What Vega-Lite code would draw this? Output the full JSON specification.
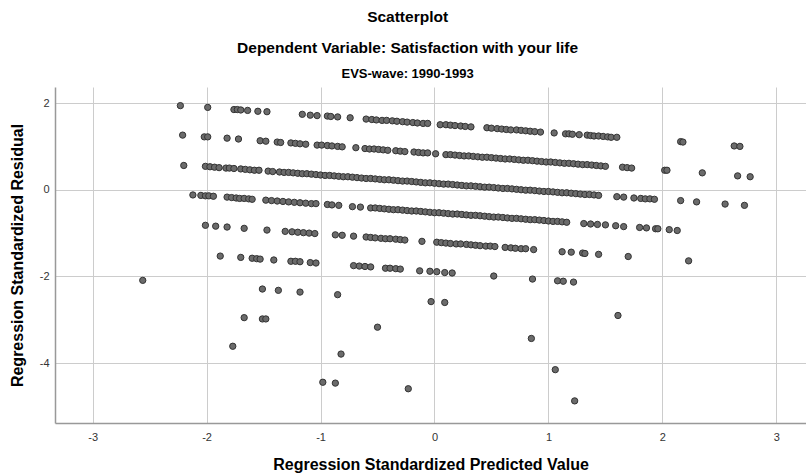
{
"$schema":"https://vega.github.io/schema/vega-lite/v6.json",
"width":751,"height":336,
"autosize":{"type":"none"},
"padding":{"left":55,"top":87,"right":0,"bottom":51},
"background":"white",
"title":{"text":["Scatterplot","Dependent Variable: Satisfaction with your life"],"subtitle":"EVS-wave: 1990-1993","anchor":"middle","frame":"bounds","font":"Liberation Sans","fontSize":15.5,"fontWeight":"bold","lineHeight":31,"color":"#000000","subtitleFont":"Liberation Sans","subtitleFontSize":13,"subtitleFontWeight":"bold","subtitleColor":"#000000","subtitlePadding":12,"offset":6},
"config":{"view":{"stroke":null},"axis":{"labelFont":"Liberation Sans","labelFontSize":11,"labelColor":"#333333","titleFont":"Liberation Sans","titleFontSize":16,"titleFontWeight":"bold","titleColor":"#000000","gridColor":"#cccccc","gridWidth":1,"domainColor":"#999999","domainWidth":1.5,"ticks":false,"labelExpr":"'' + datum.value"}},
"data":{"values":[
{"p":-2.23,"r":1.94},{"p":-1.99,"r":1.9},{"p":-1.76,"r":1.85},{"p":-1.73,"r":1.85},{"p":-1.7,"r":1.84},{"p":-1.64,"r":1.83},{"p":-1.55,"r":1.81},{"p":-1.47,"r":1.8},{"p":-1.16,"r":1.74},{"p":-1.09,"r":1.72},{"p":-1.03,"r":1.71},{"p":-0.94,"r":1.7},{"p":-0.91,"r":1.69},{"p":-0.85,"r":1.68},{"p":-0.74,"r":1.66},{"p":-0.6,"r":1.63},{"p":-0.55,"r":1.62},{"p":-0.51,"r":1.61},{"p":-0.46,"r":1.6},{"p":-0.42,"r":1.6},{"p":-0.37,"r":1.59},{"p":-0.33,"r":1.58},{"p":-0.28,"r":1.57},{"p":-0.24,"r":1.56},{"p":-0.19,"r":1.55},{"p":-0.15,"r":1.54},{"p":-0.1,"r":1.53},{"p":-0.06,"r":1.53},{"p":0.05,"r":1.5},{"p":0.1,"r":1.5},{"p":0.14,"r":1.49},{"p":0.18,"r":1.48},{"p":0.23,"r":1.47},{"p":0.27,"r":1.46},{"p":0.32,"r":1.45},{"p":0.46,"r":1.43},{"p":0.5,"r":1.42},{"p":0.55,"r":1.41},{"p":0.59,"r":1.4},{"p":0.63,"r":1.39},{"p":0.67,"r":1.38},{"p":0.72,"r":1.38},{"p":0.76,"r":1.37},{"p":0.8,"r":1.36},{"p":0.84,"r":1.35},{"p":0.88,"r":1.34},{"p":0.93,"r":1.33},{"p":1.05,"r":1.31},{"p":1.15,"r":1.29},{"p":1.18,"r":1.29},{"p":1.21,"r":1.28},{"p":1.27,"r":1.27},{"p":1.34,"r":1.26},{"p":1.37,"r":1.25},{"p":1.4,"r":1.24},{"p":1.44,"r":1.24},{"p":1.48,"r":1.23},{"p":1.52,"r":1.22},{"p":1.55,"r":1.21},{"p":1.6,"r":1.21},{"p":2.16,"r":1.11},{"p":2.18,"r":1.1},{"p":2.63,"r":1.01},{"p":2.68,"r":1.0},
{"p":-2.21,"r":1.26},{"p":-2.02,"r":1.22},{"p":-1.99,"r":1.22},{"p":-1.82,"r":1.19},{"p":-1.72,"r":1.17},{"p":-1.53,"r":1.13},{"p":-1.48,"r":1.12},{"p":-1.38,"r":1.1},{"p":-1.35,"r":1.09},{"p":-1.26,"r":1.08},{"p":-1.22,"r":1.07},{"p":-1.18,"r":1.06},{"p":-1.13,"r":1.05},{"p":-1.03,"r":1.03},{"p":-0.99,"r":1.03},{"p":-0.94,"r":1.02},{"p":-0.9,"r":1.01},{"p":-0.85,"r":1.0},{"p":-0.81,"r":0.99},{"p":-0.69,"r":0.97},{"p":-0.61,"r":0.95},{"p":-0.57,"r":0.94},{"p":-0.53,"r":0.94},{"p":-0.49,"r":0.93},{"p":-0.45,"r":0.92},{"p":-0.41,"r":0.91},{"p":-0.34,"r":0.9},{"p":-0.3,"r":0.89},{"p":-0.26,"r":0.88},{"p":-0.18,"r":0.87},{"p":-0.14,"r":0.86},{"p":-0.1,"r":0.85},{"p":-0.06,"r":0.85},{"p":0.01,"r":0.83},
{"p":0.1,"r":0.81},{"p":0.14,"r":0.81},{"p":0.18,"r":0.8},{"p":0.22,"r":0.79},{"p":0.26,"r":0.78},{"p":0.3,"r":0.78},{"p":0.34,"r":0.77},{"p":0.38,"r":0.76},{"p":0.42,"r":0.75},{"p":0.46,"r":0.75},{"p":0.5,"r":0.74},{"p":0.54,"r":0.73},{"p":0.58,"r":0.72},{"p":0.62,"r":0.71},{"p":0.66,"r":0.71},{"p":0.7,"r":0.7},{"p":0.74,"r":0.69},{"p":0.78,"r":0.68},{"p":0.82,"r":0.68},{"p":0.86,"r":0.67},{"p":0.9,"r":0.66},{"p":0.94,"r":0.65},{"p":0.98,"r":0.64},{"p":1.02,"r":0.64},{"p":1.06,"r":0.63},{"p":1.1,"r":0.62},{"p":1.14,"r":0.61},{"p":1.18,"r":0.61},{"p":1.22,"r":0.6},{"p":1.26,"r":0.59},{"p":1.3,"r":0.58},{"p":1.34,"r":0.58},{"p":1.38,"r":0.57},{"p":1.42,"r":0.56},{"p":1.46,"r":0.55},{"p":1.5,"r":0.54},
{"p":1.65,"r":0.52},{"p":1.69,"r":0.51},{"p":1.73,"r":0.5},{"p":2.02,"r":0.45},{"p":2.04,"r":0.45},{"p":2.35,"r":0.39},{"p":2.66,"r":0.32},{"p":2.77,"r":0.3},
{"p":-2.2,"r":0.56},{"p":-2.01,"r":0.54},{"p":-1.97,"r":0.53},{"p":-1.93,"r":0.52},{"p":-1.89,"r":0.51},{"p":-1.83,"r":0.5},{"p":-1.8,"r":0.5},{"p":-1.76,"r":0.49},{"p":-1.7,"r":0.48},{"p":-1.66,"r":0.47},{"p":-1.62,"r":0.46},{"p":-1.58,"r":0.45},{"p":-1.54,"r":0.45},{"p":-1.46,"r":0.43},{"p":-1.42,"r":0.42},
{"p":-1.36,"r":0.41},{"p":-1.32,"r":0.4},{"p":-1.28,"r":0.4},{"p":-1.24,"r":0.39},{"p":-1.2,"r":0.38},{"p":-1.16,"r":0.37},{"p":-1.12,"r":0.37},{"p":-1.08,"r":0.36},{"p":-1.04,"r":0.35},{"p":-1.0,"r":0.34},{"p":-0.96,"r":0.33},{"p":-0.92,"r":0.33},{"p":-0.88,"r":0.32},{"p":-0.84,"r":0.31},{"p":-0.8,"r":0.3},{"p":-0.76,"r":0.3},{"p":-0.72,"r":0.29},{"p":-0.68,"r":0.28},{"p":-0.64,"r":0.27},{"p":-0.6,"r":0.26},{"p":-0.56,"r":0.26},{"p":-0.52,"r":0.25},{"p":-0.48,"r":0.24},{"p":-0.44,"r":0.23},{"p":-0.4,"r":0.23},{"p":-0.36,"r":0.22},{"p":-0.32,"r":0.21},{"p":-0.28,"r":0.2},{"p":-0.24,"r":0.2},{"p":-0.2,"r":0.19},{"p":-0.16,"r":0.18},{"p":-0.12,"r":0.17},{"p":-0.08,"r":0.16},{"p":-0.04,"r":0.16},{"p":0.0,"r":0.15},{"p":0.04,"r":0.14},{"p":0.08,"r":0.13},{"p":0.12,"r":0.13},{"p":0.16,"r":0.12},{"p":0.2,"r":0.11},{"p":0.24,"r":0.1},{"p":0.28,"r":0.09},{"p":0.32,"r":0.09},{"p":0.36,"r":0.08},{"p":0.4,"r":0.07},{"p":0.44,"r":0.06},{"p":0.48,"r":0.06},{"p":0.52,"r":0.05},{"p":0.56,"r":0.04},{"p":0.6,"r":0.03},{"p":0.64,"r":0.03},{"p":0.68,"r":0.02},{"p":0.72,"r":0.01},{"p":0.76,"r":0.0},{"p":0.8,"r":-0.01},{"p":0.84,"r":-0.01},{"p":0.88,"r":-0.02},{"p":0.92,"r":-0.03},{"p":0.96,"r":-0.04},{"p":1.0,"r":-0.04},{"p":1.04,"r":-0.05},{"p":1.08,"r":-0.06},{"p":1.12,"r":-0.07},{"p":1.16,"r":-0.07},{"p":1.2,"r":-0.08},{"p":1.24,"r":-0.09},{"p":1.28,"r":-0.1},{"p":1.32,"r":-0.11},{"p":1.36,"r":-0.11},{"p":1.4,"r":-0.12},{"p":1.44,"r":-0.13},
{"p":1.6,"r":-0.16},{"p":1.66,"r":-0.17},{"p":1.75,"r":-0.19},{"p":1.81,"r":-0.2},{"p":1.85,"r":-0.21},{"p":1.89,"r":-0.21},{"p":1.93,"r":-0.22},{"p":2.16,"r":-0.25},{"p":2.3,"r":-0.28},{"p":2.55,"r":-0.33},{"p":2.72,"r":-0.36},
{"p":-2.12,"r":-0.12},{"p":-2.05,"r":-0.13},{"p":-2.01,"r":-0.14},{"p":-1.98,"r":-0.14},{"p":-1.94,"r":-0.15},{"p":-1.82,"r":-0.17},{"p":-1.78,"r":-0.18},{"p":-1.74,"r":-0.19},{"p":-1.71,"r":-0.2},{"p":-1.67,"r":-0.2},{"p":-1.63,"r":-0.21},{"p":-1.6,"r":-0.22},{"p":-1.48,"r":-0.24},{"p":-1.43,"r":-0.25},{"p":-1.38,"r":-0.26},{"p":-1.33,"r":-0.27},{"p":-1.28,"r":-0.28},{"p":-1.23,"r":-0.29},{"p":-1.18,"r":-0.3},{"p":-1.13,"r":-0.31},{"p":-1.08,"r":-0.32},{"p":-1.04,"r":-0.32},{"p":-0.94,"r":-0.34},{"p":-0.9,"r":-0.35},{"p":-0.84,"r":-0.36},{"p":-0.72,"r":-0.39},{"p":-0.65,"r":-0.4},
{"p":-0.56,"r":-0.42},{"p":-0.52,"r":-0.42},{"p":-0.48,"r":-0.43},{"p":-0.44,"r":-0.44},{"p":-0.4,"r":-0.45},{"p":-0.36,"r":-0.46},{"p":-0.32,"r":-0.46},{"p":-0.28,"r":-0.47},{"p":-0.24,"r":-0.48},{"p":-0.2,"r":-0.49},{"p":-0.16,"r":-0.49},{"p":-0.12,"r":-0.5},{"p":-0.08,"r":-0.51},{"p":-0.04,"r":-0.52},{"p":0.0,"r":-0.53},{"p":0.04,"r":-0.53},{"p":0.08,"r":-0.54},{"p":0.12,"r":-0.55},{"p":0.16,"r":-0.56},{"p":0.2,"r":-0.56},{"p":0.24,"r":-0.57},{"p":0.28,"r":-0.58},{"p":0.32,"r":-0.59},{"p":0.36,"r":-0.59},{"p":0.4,"r":-0.6},{"p":0.44,"r":-0.61},{"p":0.48,"r":-0.62},{"p":0.52,"r":-0.63},{"p":0.56,"r":-0.63},{"p":0.6,"r":-0.64},{"p":0.64,"r":-0.65},{"p":0.68,"r":-0.66},{"p":0.72,"r":-0.66},{"p":0.76,"r":-0.67},{"p":0.8,"r":-0.68},{"p":0.84,"r":-0.69},{"p":0.88,"r":-0.69},{"p":0.92,"r":-0.7},{"p":0.96,"r":-0.71},{"p":1.0,"r":-0.72},{"p":1.04,"r":-0.73},{"p":1.08,"r":-0.73},{"p":1.12,"r":-0.74},{"p":1.16,"r":-0.75},
{"p":1.31,"r":-0.78},{"p":1.37,"r":-0.79},{"p":1.43,"r":-0.8},{"p":1.5,"r":-0.81},{"p":1.59,"r":-0.83},{"p":1.66,"r":-0.85},{"p":1.8,"r":-0.87},{"p":1.86,"r":-0.88},{"p":1.94,"r":-0.9},{"p":1.96,"r":-0.9},{"p":2.06,"r":-0.92},{"p":2.13,"r":-0.94},
{"p":-2.01,"r":-0.82},{"p":-1.92,"r":-0.84},{"p":-1.82,"r":-0.86},{"p":-1.67,"r":-0.89},{"p":-1.47,"r":-0.93},{"p":-1.31,"r":-0.96},{"p":-1.25,"r":-0.97},{"p":-1.2,"r":-0.98},{"p":-1.15,"r":-0.99},{"p":-1.1,"r":-1.0},{"p":-1.05,"r":-1.01},{"p":-0.87,"r":-1.04},{"p":-0.81,"r":-1.05},{"p":-0.71,"r":-1.07},{"p":-0.6,"r":-1.09},{"p":-0.56,"r":-1.1},{"p":-0.52,"r":-1.11},{"p":-0.47,"r":-1.12},{"p":-0.43,"r":-1.13},{"p":-0.39,"r":-1.13},{"p":-0.34,"r":-1.14},{"p":-0.3,"r":-1.15},{"p":-0.26,"r":-1.16},{"p":-0.11,"r":-1.19},{"p":0.02,"r":-1.21},{"p":0.06,"r":-1.22},{"p":0.1,"r":-1.23},{"p":0.14,"r":-1.24},{"p":0.19,"r":-1.25},{"p":0.23,"r":-1.25},{"p":0.28,"r":-1.26},{"p":0.32,"r":-1.27},{"p":0.36,"r":-1.28},{"p":0.4,"r":-1.29},{"p":0.45,"r":-1.3},{"p":0.49,"r":-1.3},{"p":0.53,"r":-1.31},{"p":0.62,"r":-1.33},{"p":0.67,"r":-1.34},{"p":0.71,"r":-1.35},{"p":0.76,"r":-1.36},{"p":0.8,"r":-1.36},{"p":0.87,"r":-1.38},{"p":1.12,"r":-1.43},{"p":1.2,"r":-1.44},{"p":1.3,"r":-1.46},{"p":1.32,"r":-1.47},{"p":1.44,"r":-1.49},{"p":1.7,"r":-1.54},{"p":2.23,"r":-1.64},
{"p":-1.88,"r":-1.53},{"p":-1.7,"r":-1.56},{"p":-1.6,"r":-1.58},{"p":-1.56,"r":-1.59},{"p":-1.53,"r":-1.6},{"p":-1.41,"r":-1.62},{"p":-1.26,"r":-1.65},{"p":-1.22,"r":-1.65},{"p":-1.18,"r":-1.66},{"p":-1.09,"r":-1.68},{"p":-1.04,"r":-1.69},{"p":-0.71,"r":-1.75},{"p":-0.66,"r":-1.76},{"p":-0.61,"r":-1.77},{"p":-0.56,"r":-1.78},{"p":-0.43,"r":-1.81},{"p":-0.39,"r":-1.81},{"p":-0.34,"r":-1.82},{"p":-0.3,"r":-1.83},{"p":-0.13,"r":-1.87},{"p":-0.04,"r":-1.88},{"p":0.02,"r":-1.89},{"p":0.09,"r":-1.91},{"p":0.155,"r":-1.92},{"p":0.52,"r":-1.99},{"p":0.86,"r":-2.06},{"p":1.08,"r":-2.1},{"p":1.13,"r":-2.11},{"p":1.22,"r":-2.13},
{"p":-2.56,"r":-2.09},{"p":-1.51,"r":-2.29},{"p":-1.37,"r":-2.32},{"p":-1.18,"r":-2.36},{"p":-0.85,"r":-2.42},{"p":-0.03,"r":-2.58},{"p":0.09,"r":-2.6},{"p":1.61,"r":-2.9},
{"p":-1.67,"r":-2.95},{"p":-1.51,"r":-2.98},{"p":-1.48,"r":-2.98},{"p":-0.5,"r":-3.17},{"p":0.85,"r":-3.43},
{"p":-1.77,"r":-3.61},{"p":-0.82,"r":-3.79},{"p":1.06,"r":-4.15},
{"p":-0.98,"r":-4.44},{"p":-0.87,"r":-4.46},{"p":-0.23,"r":-4.59},{"p":1.23,"r":-4.87}
]},
"mark":{"type":"circle","size":40,"fill":"#6b6b6b","stroke":"#333333","strokeWidth":1,"opacity":1},
"encoding":{
"x":{"field":"p","type":"quantitative","scale":{"domain":[-3.33,3.26],"nice":false,"zero":false},"axis":{"values":[-3,-2,-1,0,1,2,3],"title":"Regression Standardized Predicted Value","labelPadding":8,"titlePadding":14}},
"y":{"field":"r","type":"quantitative","scale":{"domain":[-5.38,2.37],"nice":false,"zero":false},"axis":{"values":[-4,-2,0,2],"title":"Regression Standardized Residual","labelPadding":6,"titlePadding":14}}
}
}
